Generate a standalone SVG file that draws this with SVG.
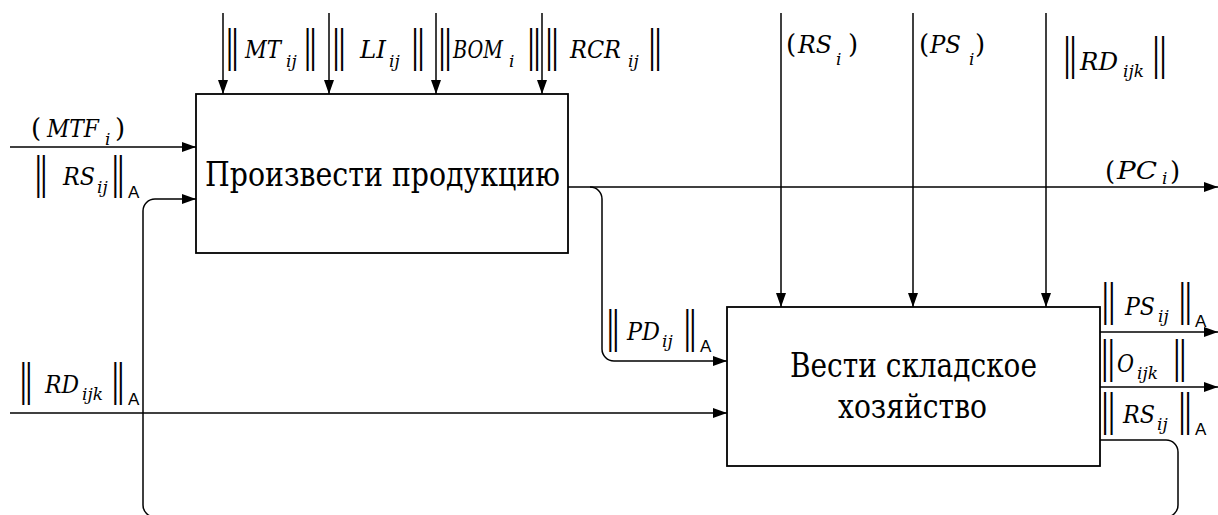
<svg xmlns="http://www.w3.org/2000/svg" width="1218" height="515" viewBox="0 0 1218 515">
<style>
.ln{stroke:#000;stroke-width:1.5;fill:none}
.box{fill:#fff;stroke:#000;stroke-width:1.8}
.bt{font-family:'DejaVu Serif',serif;font-size:33px;text-anchor:middle;fill:#000}
.lb{font-family:'DejaVu Serif',serif;fill:#000}
.bar{font-family:'DejaVu Sans',sans-serif;font-weight:200;font-style:normal;font-size:43px}
.v{font-style:italic;font-size:25px}
.s{font-style:italic;font-size:17px}
.p{font-style:normal;font-size:26px}
.A{font-family:'Liberation Sans','DejaVu Sans',sans-serif;font-size:17px;font-style:normal}
</style>
<defs>
<marker id="ah" markerUnits="userSpaceOnUse" markerWidth="14" markerHeight="10" refX="14" refY="5" orient="auto">
<path d="M0,0 L14,5 L0,10 z" fill="#000"/>
</marker>
</defs>
<rect width="1218" height="515" fill="#fff"/>
<g id="connectors">
<path class="ln" marker-end="url(#ah)" d="M223,13 V94"/>
<path class="ln" marker-end="url(#ah)" d="M329,13 V94"/>
<path class="ln" marker-end="url(#ah)" d="M436,13 V94"/>
<path class="ln" marker-end="url(#ah)" d="M542,13 V94"/>
<path class="ln" marker-end="url(#ah)" d="M781,13 V307"/>
<path class="ln" marker-end="url(#ah)" d="M913,13 V307"/>
<path class="ln" marker-end="url(#ah)" d="M1046,13 V307"/>
<path class="ln" marker-end="url(#ah)" d="M10,147 H196"/>
<path class="ln" marker-end="url(#ah)" d="M568,187 H1218"/>
<path class="ln" marker-end="url(#ah)" d="M590,187 A12,12 0 0 1 602,199 V349 A12,12 0 0 0 614,361 H727"/>
<path class="ln" marker-end="url(#ah)" d="M10,413 H727"/>
<path class="ln" marker-end="url(#ah)" d="M1100,332 H1218"/>
<path class="ln" marker-end="url(#ah)" d="M1100,387 H1218"/>
<path class="ln" marker-end="url(#ah)" d="M1100,440 H1166 A12,12 0 0 1 1178,452 V505 A12,12 0 0 1 1166,517 H155 A12,12 0 0 1 143,505 V211 A12,12 0 0 1 155,199 H196"/>
</g>
<g id="node-produce">
<rect class="box" x="196" y="94" width="372" height="159"/>
<text class="bt" x="382.5" y="186" textLength="355" lengthAdjust="spacingAndGlyphs">Произвести продукцию</text>
</g>
<g id="node-warehouse">
<rect class="box" x="727" y="307" width="373" height="159"/>
<text class="bt" x="913.5" y="377" textLength="247" lengthAdjust="spacingAndGlyphs">Вести складское</text>
<text class="bt" x="912.5" y="418" textLength="149" lengthAdjust="spacingAndGlyphs">хозяйство</text>
</g>
<g id="labels">
<text id="lbl-MT" class="lb"><tspan class="bar" x="222.3 227.8" y="60.9">||</tspan><tspan class="v" x="245" y="58" textLength="36" lengthAdjust="spacingAndGlyphs">MT</tspan><tspan class="s" x="286" y="67">ij</tspan><tspan class="bar" x="300.3 305.8" y="60.9">||</tspan></text>
<text id="lbl-LI" class="lb"><tspan class="bar" x="328.8 334.8" y="60.9">||</tspan><tspan class="v" x="360" y="58" textLength="26" lengthAdjust="spacingAndGlyphs">LI</tspan><tspan class="s" x="389" y="67">ij</tspan><tspan class="bar" x="407.8 413.8" y="60.9">||</tspan></text>
<text id="lbl-BOM" class="lb"><tspan class="bar" x="434.8 440.8" y="60.9">||</tspan><tspan class="v" x="453" y="58" textLength="50" lengthAdjust="spacingAndGlyphs">BOM</tspan><tspan class="s" x="509" y="67">i</tspan><tspan class="bar" x="523.8 529.8" y="60.9">||</tspan></text>
<text id="lbl-RCR" class="lb"><tspan class="bar" x="541.8 547.8" y="60.9">||</tspan><tspan class="v" x="570" y="58" textLength="51" lengthAdjust="spacingAndGlyphs">RCR</tspan><tspan class="s" x="628" y="67">ij</tspan><tspan class="bar" x="644.8 650.8" y="60.9">||</tspan></text>
<text id="lbl-RSi" class="lb"><tspan class="p" x="786" y="53">(</tspan><tspan class="v" x="798" y="53" font-size="27" textLength="34" lengthAdjust="spacingAndGlyphs">RS</tspan><tspan class="s" x="836" y="65">i</tspan><tspan class="p" x="848" y="53">)</tspan></text>
<text id="lbl-PSi" class="lb"><tspan class="p" x="919" y="53">(</tspan><tspan class="v" x="930" y="53" font-size="27" textLength="31" lengthAdjust="spacingAndGlyphs">PS</tspan><tspan class="s" x="969" y="65">i</tspan><tspan class="p" x="975" y="53">)</tspan></text>
<text id="lbl-RDtop" class="lb"><tspan class="bar" x="1059.8 1065.8" y="69.1" font-size="25">||</tspan><tspan class="v" x="1080" y="70" font-size="24" textLength="38" lengthAdjust="spacingAndGlyphs">RD</tspan><tspan class="s" x="1123" y="77">ijk</tspan><tspan class="bar" x="1148.8 1155.8" y="69.1" font-size="25">||</tspan></text>
<text id="lbl-PC" class="lb"><tspan class="p" x="1105" y="180" font-size="25">(</tspan><tspan class="v" x="1117" y="179" textLength="40" lengthAdjust="spacingAndGlyphs">PC</tspan><tspan class="s" x="1162" y="184">i</tspan><tspan class="p" x="1170" y="180" font-size="25">)</tspan></text>
<text id="lbl-MTF" class="lb"><tspan class="p" x="31" y="137" font-size="25">(</tspan><tspan class="v" x="47" y="137" font-size="23" textLength="52" lengthAdjust="spacingAndGlyphs">MTF</tspan><tspan class="s" x="105" y="145" font-size="16">i</tspan><tspan class="p" x="115" y="137" font-size="25">)</tspan></text>
<text id="lbl-RSleft" class="lb"><tspan class="bar" x="31.1 36.6" y="188.3" font-size="41">||</tspan><tspan class="v" x="63" y="185" textLength="32" lengthAdjust="spacingAndGlyphs">RS</tspan><tspan class="s" x="97" y="193">ij</tspan><tspan class="bar" x="108.1 113.6" y="188.3" font-size="41">||</tspan><tspan class="A" x="128" y="198">A</tspan></text>
<text id="lbl-RDleft" class="lb"><tspan class="bar" x="15.9 21.4" y="395" font-size="42">||</tspan><tspan class="v" x="45" y="393" font-size="24" textLength="34" lengthAdjust="spacingAndGlyphs">RD</tspan><tspan class="s" x="82" y="400">ijk</tspan><tspan class="bar" x="107.9 113.4" y="395" font-size="42">||</tspan><tspan class="A" x="128" y="405">A</tspan></text>
<text id="lbl-PD" class="lb"><tspan class="bar" x="602.9 608.4" y="342" font-size="42">||</tspan><tspan class="v" x="627" y="340" textLength="33" lengthAdjust="spacingAndGlyphs">PD</tspan><tspan class="s" x="662" y="347">ij</tspan><tspan class="bar" x="679.9 685.4" y="342" font-size="42">||</tspan><tspan class="A" x="700" y="352">A</tspan></text>
<text id="lbl-PSright" class="lb"><tspan class="bar" x="1097.9 1104.4" y="315" font-size="42">||</tspan><tspan class="v" x="1125" y="315" textLength="30" lengthAdjust="spacingAndGlyphs">PS</tspan><tspan class="s" x="1158" y="322">ij</tspan><tspan class="bar" x="1174.9 1180.9" y="315" font-size="42">||</tspan><tspan class="A" x="1195" y="327">A</tspan></text>
<text id="lbl-O" class="lb"><tspan class="bar" x="1097.6 1104.1" y="371.6" font-size="44">||</tspan><tspan class="v" x="1117" y="372" textLength="17" lengthAdjust="spacingAndGlyphs">O</tspan><tspan class="s" x="1137" y="379" font-size="18">ijk</tspan><tspan class="bar" x="1169.6 1175.6" y="371.6" font-size="44">||</tspan></text>
<text id="lbl-RSright" class="lb"><tspan class="bar" x="1097.8 1104.3" y="424.9">||</tspan><tspan class="v" x="1123" y="423" textLength="32" lengthAdjust="spacingAndGlyphs">RS</tspan><tspan class="s" x="1157" y="430">ij</tspan><tspan class="bar" x="1174.8 1180.8" y="424.9">||</tspan><tspan class="A" x="1195" y="435">A</tspan></text>
</g>
</svg>
